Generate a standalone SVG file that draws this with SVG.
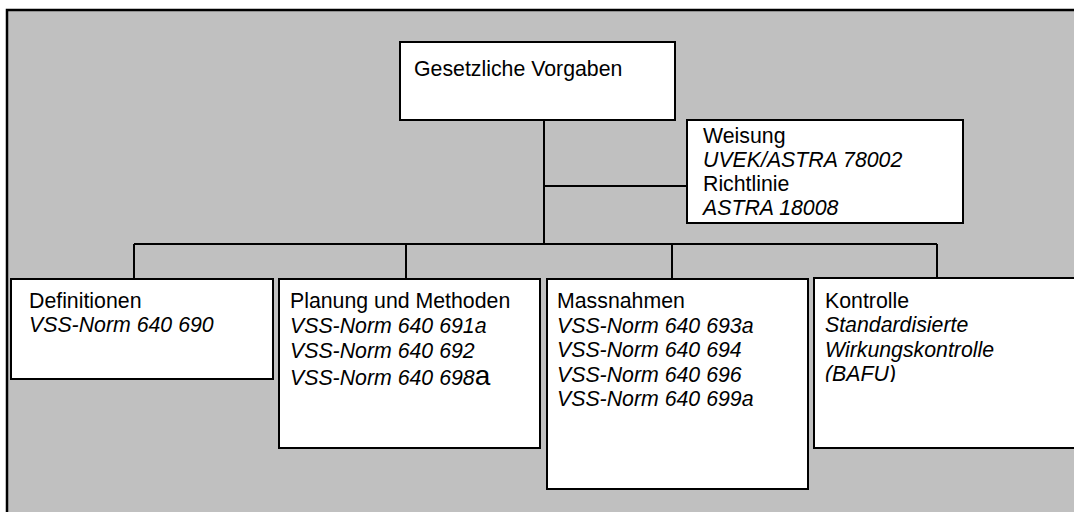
<svg xmlns="http://www.w3.org/2000/svg" width="1074" height="512" viewBox="0 0 1074 512">
<style>
.box{fill:#ffffff;stroke:#000000;stroke-width:2}
.ln{fill:none;stroke:#000000;stroke-width:2}
text{font-family:"Liberation Sans",Arial,sans-serif;font-size:21.3px;fill:#000000}
.i{font-style:italic}
</style>
<defs>
<clipPath id="kclip"><rect x="814" y="278" width="300" height="104"/></clipPath>
</defs>
<rect x="0" y="0" width="1074" height="512" fill="#ffffff"/>
<rect id="frame" x="7" y="10" width="1100" height="600" fill="#c0c0c0" stroke="#000000" stroke-width="2.5"/>
<g id="connectors">
<path class="ln" d="M544 121 V244"/>
<path class="ln" d="M544 186 H687"/>
<path class="ln" d="M134 244 H937"/>
<path class="ln" d="M134 244 V279 M406 244 V279 M672 244 V279 M937 244 V279"/>
</g>
<g id="node-gesetz">
<rect class="box" x="400" y="42" width="275" height="78"/>
<text x="414" y="76">Gesetzliche Vorgaben</text>
</g>
<g id="node-weisung">
<rect class="box" x="687" y="120" width="276" height="103"/>
<text x="703" y="143">Weisung</text>
<text class="i" x="703" y="167">UVEK/ASTRA 78002</text>
<text x="703" y="191">Richtlinie</text>
<text class="i" x="703" y="215">ASTRA 18008</text>
</g>
<g id="node-definitionen">
<rect class="box" x="11" y="279" width="262" height="100"/>
<text x="29" y="308">Definitionen</text>
<text class="i" x="29" y="332">VSS-Norm 640 690</text>
</g>
<g id="node-planung">
<rect class="box" x="279" y="279" width="261" height="169"/>
<text x="290" y="308">Planung und Methoden</text>
<text class="i" x="290" y="333">VSS-Norm 640 691a</text>
<text class="i" x="290" y="358">VSS-Norm 640 692</text>
<text x="290" y="385"><tspan class="i">VSS-Norm 640 698</tspan><tspan font-size="28">a</tspan></text>
</g>
<g id="node-massnahmen">
<rect class="box" x="547" y="279" width="261" height="210"/>
<text x="557" y="308">Massnahmen</text>
<text class="i" x="557" y="333">VSS-Norm 640 693a</text>
<text class="i" x="557" y="357">VSS-Norm 640 694</text>
<text class="i" x="557" y="382">VSS-Norm 640 696</text>
<text class="i" x="557" y="406">VSS-Norm 640 699a</text>
</g>
<g id="node-kontrolle">
<rect class="box" x="814" y="278" width="300" height="170"/>
<text x="825" y="308">Kontrolle</text>
<text class="i" x="825" y="332">Standardisierte</text>
<text class="i" x="825" y="357">Wirkungskontrolle</text>
<text class="i" x="825" y="381" clip-path="url(#kclip)">(BAFU)</text>
</g>
</svg>
